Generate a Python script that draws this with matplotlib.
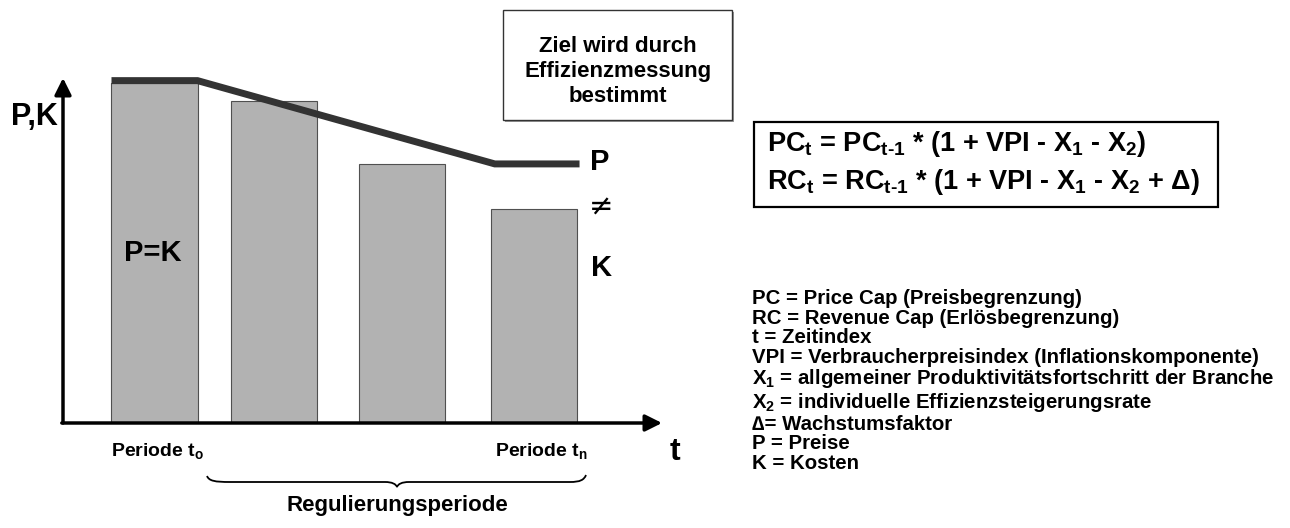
import matplotlib
matplotlib.use('Agg')
import matplotlib.pyplot as plt
from matplotlib.patches import Rectangle, PathPatch
from matplotlib.path import Path

plt.rcParams['font.family'] = ['Liberation Sans', 'DejaVu Sans']
plt.rcParams['font.weight'] = 'bold'

# data: costs per period (index, t0 = 100) and price cap path
periods = ['Periode t$_\\mathregular{o}$', '', '', 'Periode t$_\\mathregular{n}$']
costs = [100.0, 94.7, 76.2, 62.9]
price_start = 100.7
price_end = 76.2

legend_lines = [
    'PC = Price Cap (Preisbegrenzung)',
    'RC = Revenue Cap (Erlösbegrenzung)',
    't = Zeitindex',
    'VPI = Verbraucherpreisindex (Inflationskomponente)',
    'X$_\\mathregular{1}$ = allgemeiner Produktivitätsfortschritt der Branche',
    'X$_\\mathregular{2}$ = individuelle Effizienzsteigerungsrate',
    '\u2206= Wachstumsfaktor',
    'P = Preise',
    'K = Kosten',
]
formula_lines = [
    'PC$_\\mathregular{t}$ = PC$_\\mathregular{t\u20101}$ * (1 + VPI - X$_\\mathregular{1}$ - X$_\\mathregular{2}$)',
    'RC$_\\mathregular{t}$ = RC$_\\mathregular{t\u20101}$ * (1 + VPI - X$_\\mathregular{1}$ - X$_\\mathregular{2}$ + Δ)',
]

# layout (pixels of the 1290x528 canvas)
W, H = 1290, 528
bar_pos = [0, 0.945, 1.957, 3]
bar_w = 0.68

fig = plt.figure(figsize=(W / 100, H / 100), dpi=100)

ax = fig.add_axes([63 / W, 1 - 423 / H, (662 - 63) / W, (423 - 78) / H])
ax.set_xlim(-0.7233, 4.0119)
ax.set_ylim(0, 101.47)
ax.axis('off')

ax.bar(bar_pos, costs, width=bar_w, color='#b2b2b2', edgecolor='#505050', linewidth=0.8, zorder=2)

px = [bar_pos[0] - bar_w / 2, bar_pos[0] + bar_w / 2, bar_pos[-1] - bar_w / 2 + 0.03, bar_pos[-1] + bar_w / 2 + 0.02]
py = [price_start, price_start, price_end, price_end]
ax.plot(px, py, color='#333333', lw=5, solid_capstyle='butt', solid_joinstyle='miter', clip_on=False, zorder=3)

arrow = dict(arrowstyle='-|>,head_length=0.5,head_width=0.25', lw=2.5, color='black',
             mutation_scale=20, shrinkA=0, shrinkB=0)
ax.annotate('', xy=(0, 1), xytext=(0, 0), xycoords='axes fraction', arrowprops=arrow)
ax.annotate('', xy=(1, 0), xytext=(-0.002, 0), xycoords='axes fraction', arrowprops=arrow)

# overlay in pixel coordinates for labels and boxes
ov = fig.add_axes([0, 0, 1, 1])
ov.set_xlim(0, W)
ov.set_ylim(H, 0)
ov.axis('off')

big = 21
ov.text(34, 117, 'P,K', fontsize=22, ha='center', va='center')
ov.text(153, 253, 'P=K', fontsize=big, ha='center', va='center')
ov.text(600, 162, 'P', fontsize=big, ha='center', va='center')
ov.text(601, 208, '≠', fontsize=big, ha='center', va='center', family=['DejaVu Sans'], fontweight='normal')
ov.text(602, 268, 'K', fontsize=big, ha='center', va='center')
ov.text(675, 452, 't', fontsize=big + 2, ha='center', va='center')

ov.text(111, 452, periods[0], fontsize=14, ha='left', va='center')
ov.text(588, 452, periods[3], fontsize=14, ha='right', va='center')

# brace under the regulation period
verts = [(207, 476), (209, 481), (215, 482), (230, 482),
         (385, 482), (392, 482), (396, 484), (397, 487),
         (398, 484), (402, 482), (409, 482),
         (570, 482), (580, 482), (584, 480), (586, 475)]
codes = [Path.MOVETO, Path.CURVE4, Path.CURVE4, Path.CURVE4,
         Path.LINETO, Path.CURVE4, Path.CURVE4, Path.CURVE4,
         Path.CURVE4, Path.CURVE4, Path.CURVE4,
         Path.LINETO, Path.CURVE4, Path.CURVE4, Path.CURVE4]
ov.add_patch(PathPatch(Path(verts, codes), fill=False, lw=1.3, edgecolor='black'))
ov.text(397, 505, 'Regulierungsperiode', fontsize=16, ha='center', va='center')

ov.add_patch(Rectangle((505, 12), 229, 110, facecolor='#9a9a9a', edgecolor='none', lw=0))
ov.add_patch(Rectangle((503, 10), 229, 110, facecolor='white', edgecolor='#333333', lw=1))
ov.text(618, 47, 'Ziel wird durch', fontsize=16, ha='center', va='center')
ov.text(618, 72, 'Effizienzmessung', fontsize=16, ha='center', va='center')
ov.text(618, 97, 'bestimmt', fontsize=16, ha='center', va='center')

ov.add_patch(Rectangle((754, 122), 464, 85, facecolor='white', edgecolor='black', lw=1.6))
ov.text(767, 144, formula_lines[0], fontsize=19.5, ha='left', va='center')
ov.text(767, 182, formula_lines[1], fontsize=19.5, ha='left', va='center')

ov.text(752, 289, '\n'.join(legend_lines), fontsize=14.7, ha='left', va='top', linespacing=1.04)

fig.savefig('out.png', dpi=100)
